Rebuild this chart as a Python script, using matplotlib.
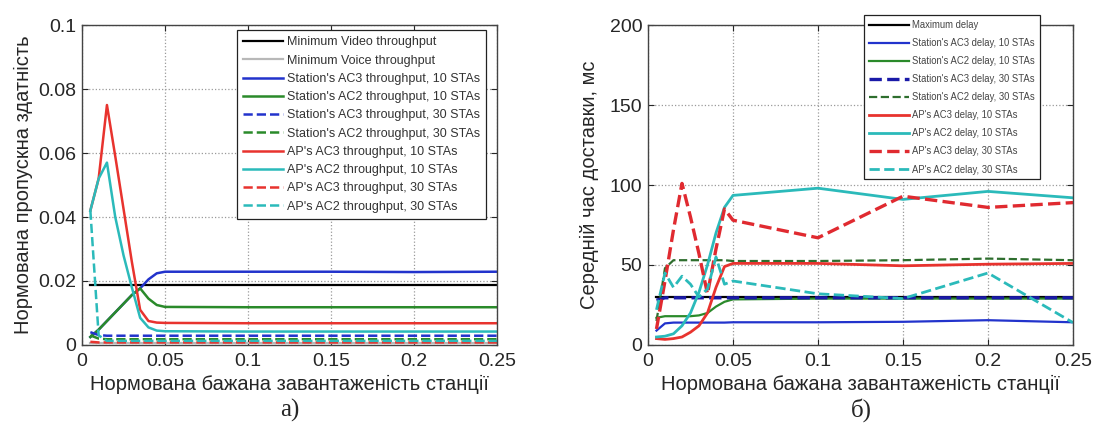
import matplotlib.pyplot as plt

plt.rcParams['font.family'] = ['Liberation Sans', 'DejaVu Sans']

# normalised offered load of a station (x axis of both panels)
load = [0.005, 0.01, 0.015, 0.02, 0.025, 0.03, 0.035, 0.04, 0.045, 0.05, 0.1, 0.15, 0.2, 0.25]

# panel a) - normalised throughput
min_video_thr = 0.0187
min_voice_thr = 0.0006
sta_ac3_thr_10 = [0.0025, 0.0048, 0.0075, 0.0102, 0.0129, 0.0156, 0.0177, 0.0205, 0.0224, 0.0229, 0.0229, 0.0229, 0.0228, 0.0229]
sta_ac2_thr_10 = [0.0025, 0.0048, 0.0075, 0.0102, 0.0129, 0.0156, 0.0177, 0.0145, 0.0125, 0.0119, 0.0118, 0.0118, 0.0118, 0.0118]
sta_ac3_thr_30 = [0.0040, 0.0031, 0.0029, 0.0029, 0.0029, 0.0029, 0.0029, 0.0029, 0.0029, 0.0029, 0.0029, 0.0029, 0.0029, 0.0029]
sta_ac2_thr_30 = [0.0030, 0.0020, 0.0018, 0.0018, 0.0018, 0.0018, 0.0018, 0.0018, 0.0018, 0.0018, 0.0018, 0.0018, 0.0018, 0.0018]
ap_ac3_thr_10 = [0.042, 0.052, 0.075, 0.059, 0.0425, 0.026, 0.011, 0.0075, 0.0070, 0.0069, 0.0068, 0.0068, 0.0068, 0.0068]
ap_ac2_thr_10 = [0.042, 0.052, 0.057, 0.040, 0.028, 0.018, 0.0085, 0.0055, 0.0045, 0.0043, 0.0042, 0.0042, 0.0042, 0.0042]
ap_ac3_thr_30 = [0.0010, 0.0008, 0.0008, 0.0008, 0.0008, 0.0008, 0.0008, 0.0008, 0.0008, 0.0008, 0.0008, 0.0008, 0.0008, 0.0008]
ap_ac2_thr_30 = [0.042, 0.0030, 0.0013, 0.0013, 0.0013, 0.0013, 0.0013, 0.0013, 0.0013, 0.0013, 0.0013, 0.0013, 0.0013, 0.0013]

# panel b) - mean delivery delay, ms
max_delay = 30
sta_ac3_del_10 = [9, 13.5, 14, 14, 14, 14, 14, 14, 14, 14.2, 14.2, 14.5, 15.5, 14.2]
sta_ac2_del_10 = [17, 18, 18, 18, 18, 18.5, 20, 24, 27, 28.5, 29, 29, 29, 29]
sta_ac3_del_30 = [28, 29.5, 29.5, 29.5, 29.5, 29.5, 29.5, 29.5, 29.5, 29.5, 29.5, 29.5, 29.5, 29.5]
sta_ac2_del_30 = [15, 48, 53, 53, 53, 53, 53, 53, 53, 52.5, 52.5, 53, 54, 53]
ap_ac3_del_10 = [4, 3.5, 4, 5, 8, 12, 20, 36, 49, 51, 51, 49.5, 50.5, 51]
ap_ac2_del_10 = [5, 5.5, 7, 12, 20, 33, 50, 70, 86, 93.5, 98, 91, 96, 92]
ap_ac3_del_30 = [10, 40, 72, 101, 80, 57, 32, 60, 85, 78, 67, 93, 86, 89]
ap_ac2_del_30 = [22, 45, 36, 43, 38, 30, 35, 55, 38, 40, 32, 29, 45, 14]

x_ticks = [0, 0.05, 0.1, 0.15, 0.2, 0.25]
x_ticklabels = ['0', '0.05', '0.1', '0.15', '0.2', '0.25']
thr_ticks = [0, 0.02, 0.04, 0.06, 0.08, 0.1]
thr_ticklabels = ['0', '0.02', '0.04', '0.06', '0.08', '0.1']
del_ticks = [0, 50, 100, 150, 200]

BLUE = '#2233cc'
GREEN = '#2a8a2a'
RED = '#e8332e'
CYAN = '#2bbaba'
GRAY = '#b8b8b8'
TXT = '#262626'

fig = plt.figure(figsize=(10.94, 4.32), dpi=100)
ax1 = fig.add_axes([0.075, 0.2014, 0.3793, 0.7407])
ax2 = fig.add_axes([0.5923, 0.2014, 0.3885, 0.7407])


def style(ax):
    ax.set_xlim(0, 0.25)
    ax.set_xticks(x_ticks)
    ax.set_xticklabels(x_ticklabels)
    ax.grid(True, linestyle=':', color='#9a9a9a', linewidth=0.9)
    ax.tick_params(direction='in', top=True, right=True, length=4,
                   labelsize=14, colors=TXT, pad=4)
    ax.tick_params(axis='x', pad=6)
    for s in ax.spines.values():
        s.set_color('#444444')
        s.set_linewidth(1.0)
    ax.set_xlabel('Нормована бажана завантаженість станції', fontsize=14.5,
                  color=TXT, labelpad=3)


# throughput panel
ax1.plot(load, [min_video_thr] * len(load), color='k', lw=1.6, label='Minimum Video throughput')
ax1.plot(load, [min_voice_thr] * len(load), color=GRAY, lw=1.6, label='Minimum Voice throughput')
ax1.plot(load, sta_ac3_thr_10, color=BLUE, lw=1.8, label="Station's AC3 throughput, 10 STAs")
ax1.plot(load, sta_ac2_thr_10, color=GREEN, lw=1.8, label="Station's AC2 throughput, 10 STAs")
ax1.plot(load, sta_ac3_thr_30, color=BLUE, lw=1.8, ls='--', label="Station's AC3 throughput, 30 STAs")
ax1.plot(load, sta_ac2_thr_30, color=GREEN, lw=1.8, ls='--', label="Station's AC2 throughput, 30 STAs")
ax1.plot(load, ap_ac3_thr_10, color=RED, lw=1.8, label="AP's AC3 throughput, 10 STAs")
ax1.plot(load, ap_ac2_thr_10, color=CYAN, lw=1.8, label="AP's AC2 throughput, 10 STAs")
ax1.plot(load, ap_ac3_thr_30, color=RED, lw=1.8, ls='--', label="AP's AC3 throughput, 30 STAs")
ax1.plot(load, ap_ac2_thr_30, color=CYAN, lw=1.8, ls='--', label="AP's AC2 throughput, 30 STAs")
style(ax1)
ax1.set_ylim(0, 0.1)
ax1.set_yticks(thr_ticks)
ax1.set_yticklabels(thr_ticklabels)
ax1.set_ylabel('Нормована пропускна здатність', fontsize=14.5, color=TXT, labelpad=4)
leg1 = ax1.legend(loc='upper left', bbox_to_anchor=(0.373, 0.984), borderaxespad=0,
                  fontsize=9, handlelength=3.2, handletextpad=0.3, labelspacing=0.5,
                  fancybox=False, framealpha=1, edgecolor='#222222', borderpad=0.5)
leg1.get_frame().set_linewidth(0.9)
for t in leg1.get_texts():
    t.set_color('#333333')

# delay panel
ax2.plot(load, [max_delay] * len(load), color='k', lw=1.6, label='Maximum delay')
ax2.plot(load, sta_ac3_del_10, color=BLUE, lw=1.6, label="Station's AC3 delay, 10 STAs")
ax2.plot(load, sta_ac2_del_10, color=GREEN, lw=1.6, label="Station's AC2 delay, 10 STAs")
ax2.plot(load, sta_ac3_del_30, color='#1a1aa8', lw=2.4, ls='--', label="Station's AC3 delay, 30 STAs")
ax2.plot(load, sta_ac2_del_30, color='#2e6e2e', lw=1.6, ls='--', label="Station's AC2 delay, 30 STAs")
ax2.plot(load, ap_ac3_del_10, color=RED, lw=2.0, label="AP's AC3 delay, 10 STAs")
ax2.plot(load, ap_ac2_del_10, color=CYAN, lw=2.0, label="AP's AC2 delay, 10 STAs")
ax2.plot(load, ap_ac3_del_30, color='#e02a30', lw=2.4, ls='--', label="AP's AC3 delay, 30 STAs")
ax2.plot(load, ap_ac2_del_30, color=CYAN, lw=2.0, ls='--', label="AP's AC2 delay, 30 STAs")
style(ax2)
ax2.set_ylim(0, 200)
ax2.set_yticks(del_ticks)
ax2.set_ylabel('Середній час доставки, мс', fontsize=14.5, color=TXT, labelpad=8)
leg2 = ax2.legend(loc='upper left', bbox_to_anchor=(0.508, 1.031), borderaxespad=0,
                  fontsize=6.85, handlelength=4.2, handletextpad=0.4, labelspacing=0.85,
                  fancybox=False, framealpha=1, edgecolor='#222222', borderpad=0.5)
leg2.get_frame().set_linewidth(0.9)
for t in leg2.get_texts():
    t.set_color('#444444')

fig.text(0.265, 0.05, 'а)', fontsize=18, family='Liberation Serif', color=TXT,
         ha='center', va='center')
fig.text(0.787, 0.05, 'б)', fontsize=18, family='Liberation Serif', color=TXT,
         ha='center', va='center')

fig.savefig('out.png', dpi=100)
